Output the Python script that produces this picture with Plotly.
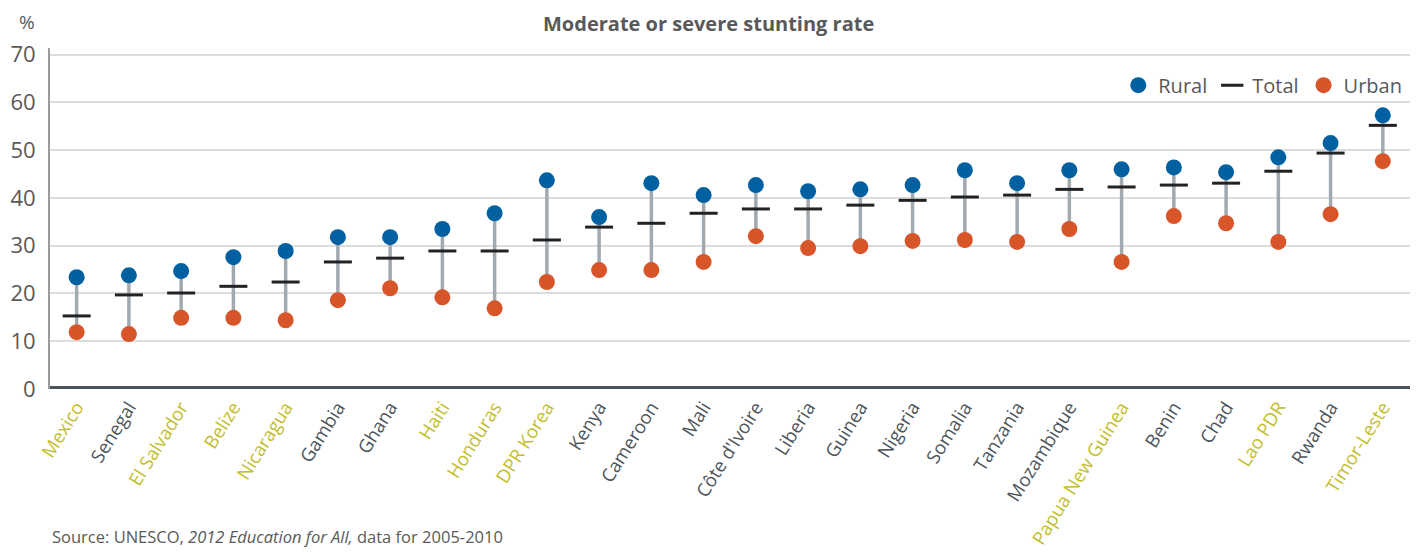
import plotly.graph_objects as go

countries = ["Mexico", "Senegal", "El Salvador", "Belize", "Nicaragua", "Gambia", "Ghana", "Haiti",
             "Honduras", "DPR Korea", "Kenya", "Cameroon", "Mali", "Côte d'Ivoire", "Liberia", "Guinea",
             "Nigeria", "Somalia", "Tanzania", "Mozambique", "Papua New Guinea", "Benin", "Chad",
             "Lao PDR", "Rwanda", "Timor-Leste"]
highlight = ["Mexico", "El Salvador", "Belize", "Nicaragua", "Haiti", "Honduras", "DPR Korea",
             "Papua New Guinea", "Lao PDR", "Timor-Leste"]
rural = [23.4, 23.8, 24.7, 27.6, 28.9, 31.8, 31.8, 33.5, 36.8, 43.7, 36.0, 43.1, 40.6, 42.7, 41.4,
         41.8, 42.7, 45.8, 43.1, 45.8, 46.0, 46.4, 45.4, 48.5, 51.5, 57.3]
total = [15.3, 19.7, 20.1, 21.5, 22.4, 26.6, 27.4, 28.9, 28.9, 31.2, 33.9, 34.7, 36.8, 37.7, 37.7,
         38.5, 39.5, 40.2, 40.6, 41.8, 42.3, 42.7, 43.1, 45.6, 49.4, 55.2]
urban = [11.9, 11.5, 14.9, 14.9, 14.4, 18.6, 21.1, 19.2, 16.9, 22.4, 24.9, 24.9, 26.6, 32.0, 29.5,
         29.9, 31.0, 31.2, 30.8, 33.5, 26.6, 36.2, 34.7, 30.8, 36.6, 47.7]
y_ticks = [0, 10, 20, 30, 40, 50, 60, 70]

BLUE = "#0060a0"
ORANGE = "#d8552a"
DARK = "#4d555b"
OLIVE = "#c2be2c"

idx = list(range(len(countries)))
lx, ly = [], []
for i in idx:
    lx += [i, i, None]
    ly += [urban[i], rural[i], None]

fig = go.Figure()
fig.add_trace(go.Scatter(x=lx, y=ly, mode="lines", line=dict(color="#a2a9af", width=3.5),
                         showlegend=False, hoverinfo="skip"))
fig.add_trace(go.Scatter(x=idx, y=rural, mode="markers", name="Rural",
                         marker=dict(color=BLUE, size=16, symbol="circle")))
fig.add_trace(go.Scatter(x=idx, y=total, mode="markers", name="Total",
                         marker=dict(symbol="line-ew", size=20, line=dict(color="#222222", width=3))))
fig.add_trace(go.Scatter(x=idx, y=urban, mode="markers", name="Urban",
                         marker=dict(color=ORANGE, size=16, symbol="circle")))

ticktext = [f"<span style='color:{OLIVE if c in highlight else DARK}'>{c}</span>" for c in countries]

# page has an 8px body margin, so the figure is drawn 8px smaller and offset
fig.update_layout(
    width=1410, height=544,
    margin=dict(l=42, r=8, t=40, b=163, autoexpand=False),
    paper_bgcolor="white", plot_bgcolor="white",
    font=dict(family="Open Sans", color="#595959"),
    legend=dict(orientation="h", x=0.998, xanchor="right", y=0.891, yanchor="middle",
                font=dict(size=20, color="#595959"), bgcolor="rgba(0,0,0,0)",
                itemwidth=30, tracegroupgap=0),
    xaxis=dict(tickmode="array", tickvals=idx, ticktext=ticktext, tickangle=-58,
               range=[-0.51, 25.52], showgrid=False, zeroline=False, automargin=False,
               showline=False, ticks="", ticklabelstandoff=3, tickfont=dict(size=18.5, color=DARK)),
    yaxis=dict(range=[0, 71.4], tickvals=y_ticks, showgrid=True, gridcolor="#dcdcdc", gridwidth=1.5,
               zeroline=False, showline=True, linecolor="#9a9a9a", linewidth=2, automargin=False,
               ticks="", ticklabelstandoff=8, tickfont=dict(size=22, color="#595959")),
    showlegend=True,
)

fig.add_shape(type="line", xref="paper", yref="y", x0=0, x1=1, y0=0, y1=0,
              line=dict(color=DARK, width=6))

fig.add_annotation(text="<b>Moderate or severe stunting rate</b>", xref="paper", yref="paper",
                   x=0.484, y=1.0733, showarrow=False, xanchor="center", yanchor="middle",
                   font=dict(size=20, color="#595959"))
fig.add_annotation(text="%", xref="paper", yref="paper", x=-0.0169, y=1.076, showarrow=False,
                   font=dict(size=19, color="#595959"), xanchor="center", yanchor="middle")
fig.add_annotation(text="Source: UNESCO, <i>2012 Education for All,</i> data for 2005-2010",
                   xref="paper", yref="paper", x=0, y=-0.434, showarrow=False, xanchor="left",
                   yanchor="middle", font=dict(size=16.5, color="#595959"))

fig.write_html("out.html")
